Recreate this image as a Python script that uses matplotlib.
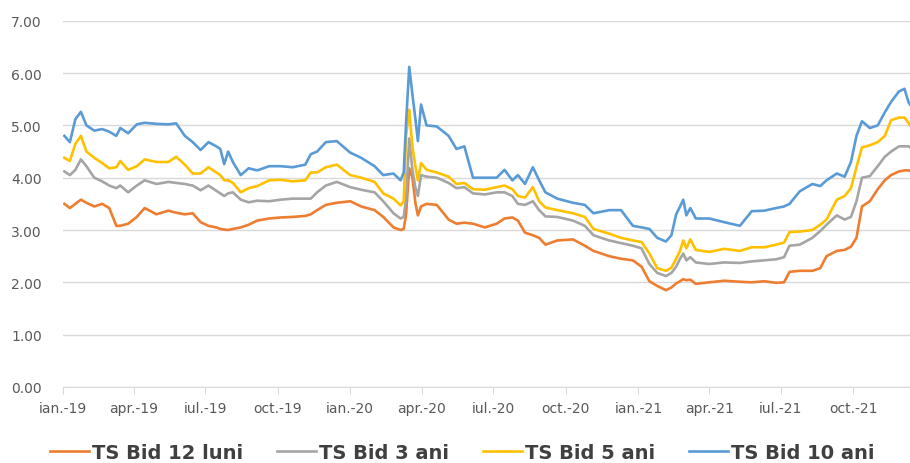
import pandas as pd
import matplotlib.pyplot as plt
import matplotlib.dates as mdates

# =========================
# Data
# =========================
dates = [
    "2019-01-03", "2019-01-10", "2019-01-17", "2019-01-24", "2019-01-31",
    "2019-02-10", "2019-02-20", "2019-03-01", "2019-03-10", "2019-03-15",
    "2019-03-25", "2019-04-05", "2019-04-15", "2019-04-30", "2019-05-15",
    "2019-05-25", "2019-06-05", "2019-06-15", "2019-06-25", "2019-07-05",
    "2019-07-15", "2019-07-20", "2019-07-25", "2019-07-30", "2019-08-05",
    "2019-08-15", "2019-08-25", "2019-09-05", "2019-09-20", "2019-10-05",
    "2019-10-20", "2019-11-05", "2019-11-12", "2019-11-20", "2019-12-01",
    "2019-12-15", "2020-01-01", "2020-01-15", "2020-02-01", "2020-02-12",
    "2020-02-25", "2020-03-05", "2020-03-09", "2020-03-12", "2020-03-16",
    "2020-03-20", "2020-03-24", "2020-03-27", "2020-03-31", "2020-04-07",
    "2020-04-20", "2020-05-05", "2020-05-15", "2020-05-25", "2020-06-05",
    "2020-06-20", "2020-07-05", "2020-07-15", "2020-07-25", "2020-08-01",
    "2020-08-10", "2020-08-20", "2020-08-28", "2020-09-05", "2020-09-20",
    "2020-10-10", "2020-10-25", "2020-11-05", "2020-11-25", "2020-12-10",
    "2020-12-25", "2021-01-05", "2021-01-15", "2021-01-25", "2021-02-05",
    "2021-02-12", "2021-02-18", "2021-02-23", "2021-02-27", "2021-03-03",
    "2021-03-08", "2021-03-15", "2021-04-01", "2021-04-20", "2021-05-10",
    "2021-05-25", "2021-06-10", "2021-06-25", "2021-07-05", "2021-07-12",
    "2021-07-25", "2021-08-10", "2021-08-20", "2021-08-28", "2021-09-10",
    "2021-09-20", "2021-09-28", "2021-10-05", "2021-10-12", "2021-10-22",
    "2021-11-01", "2021-11-10", "2021-11-18", "2021-11-28", "2021-12-05",
    "2021-12-10", "2021-12-12",
]

ts_12_luni = [
    3.50, 3.42, 3.50, 3.58, 3.52, 3.45, 3.50, 3.42, 3.08, 3.08,
    3.12, 3.25, 3.42, 3.30, 3.37, 3.33, 3.30, 3.32, 3.15, 3.08,
    3.05, 3.02, 3.01, 3.00, 3.02, 3.05, 3.10, 3.18, 3.22, 3.24,
    3.25, 3.27, 3.30, 3.38, 3.48, 3.52, 3.55, 3.45, 3.38, 3.25,
    3.05, 3.00, 3.02, 3.30, 4.18, 4.00, 3.50, 3.28, 3.45, 3.50,
    3.48, 3.20, 3.12, 3.14, 3.12, 3.05, 3.12, 3.22, 3.24, 3.18,
    2.95, 2.90, 2.85, 2.72, 2.80, 2.82, 2.70, 2.60, 2.50, 2.45,
    2.42, 2.30, 2.02, 1.93, 1.85, 1.90, 1.98, 2.02, 2.06, 2.04,
    2.05, 1.97, 2.00, 2.03, 2.01, 2.00, 2.02, 1.99, 2.00, 2.20,
    2.22, 2.22, 2.27, 2.50, 2.60, 2.62, 2.68, 2.85, 3.45, 3.55,
    3.78, 3.95, 4.05, 4.12, 4.14, 4.14, 4.13,
]

ts_3_ani = [
    4.12, 4.05, 4.15, 4.35, 4.22, 4.00, 3.93, 3.85, 3.80, 3.85,
    3.72, 3.85, 3.95, 3.88, 3.92, 3.90, 3.88, 3.85, 3.76, 3.85,
    3.75, 3.70, 3.65, 3.70, 3.72, 3.58, 3.53, 3.56, 3.55, 3.58,
    3.60, 3.60, 3.60, 3.72, 3.85, 3.92, 3.82, 3.77, 3.72, 3.55,
    3.32, 3.22, 3.25, 3.60, 4.75, 4.15, 3.80, 3.65, 4.05, 4.02,
    4.00, 3.90, 3.80, 3.82, 3.70, 3.68, 3.72, 3.72, 3.65, 3.50,
    3.48, 3.55, 3.38, 3.26, 3.25, 3.18, 3.08, 2.90, 2.80, 2.75,
    2.70, 2.65, 2.35, 2.18, 2.12, 2.18, 2.30, 2.45, 2.55, 2.42,
    2.48, 2.38, 2.35, 2.38, 2.37, 2.40, 2.42, 2.44, 2.48, 2.70,
    2.72, 2.85, 2.98, 3.10, 3.28, 3.20, 3.25, 3.55, 4.00, 4.03,
    4.22, 4.40, 4.50, 4.60, 4.60, 4.60, 4.58,
]

ts_5_ani = [
    4.38, 4.32, 4.65, 4.80, 4.50, 4.38, 4.28, 4.18, 4.20, 4.32,
    4.15, 4.22, 4.35, 4.30, 4.30, 4.40, 4.25, 4.08, 4.08, 4.20,
    4.10, 4.05, 3.95, 3.95, 3.90, 3.72, 3.80, 3.84, 3.95, 3.96,
    3.93, 3.95, 4.10, 4.10, 4.20, 4.25, 4.05, 4.00, 3.92, 3.70,
    3.60, 3.47, 3.55, 4.80, 5.30, 4.60, 4.20, 3.95, 4.28, 4.15,
    4.10, 4.02, 3.88, 3.90, 3.78, 3.77, 3.82, 3.85, 3.78, 3.65,
    3.62, 3.82, 3.55, 3.43, 3.38, 3.32, 3.25, 3.02, 2.93, 2.85,
    2.80, 2.77, 2.55, 2.27, 2.22, 2.28, 2.45, 2.60, 2.80, 2.65,
    2.82, 2.62, 2.58, 2.64, 2.60, 2.67, 2.67, 2.72, 2.76, 2.96,
    2.97, 3.00, 3.10, 3.20, 3.58, 3.65, 3.80, 4.20, 4.58, 4.62,
    4.68, 4.80, 5.10, 5.15, 5.15, 5.05, 5.00,
]

ts_10_ani = [
    4.80, 4.68, 5.12, 5.26, 5.00, 4.90, 4.93, 4.88, 4.80, 4.95,
    4.85, 5.02, 5.05, 5.03, 5.02, 5.04, 4.80, 4.68, 4.53, 4.68,
    4.60, 4.55, 4.26, 4.50, 4.30, 4.05, 4.18, 4.14, 4.22, 4.22,
    4.20, 4.25, 4.45, 4.50, 4.68, 4.70, 4.48, 4.38, 4.22, 4.05,
    4.08, 3.95, 4.10, 5.05, 6.12, 5.60, 5.10, 4.70, 5.40, 5.00,
    4.98, 4.80, 4.55, 4.60, 4.00, 4.00, 4.00, 4.15, 3.95, 4.05,
    3.88, 4.20, 3.95, 3.72, 3.60, 3.52, 3.48, 3.32, 3.38, 3.38,
    3.08, 3.05, 3.02, 2.85, 2.78, 2.90, 3.30, 3.45, 3.58, 3.28,
    3.42, 3.22, 3.22, 3.15, 3.08, 3.36, 3.37, 3.42, 3.45, 3.50,
    3.74, 3.88, 3.84, 3.95, 4.08, 4.02, 4.30, 4.80, 5.08, 4.95,
    5.00, 5.25, 5.45, 5.65, 5.70, 5.45, 5.40,
]

series_names = ["TS Bid 12 luni", "TS Bid 3 ani", "TS Bid 5 ani", "TS Bid 10 ani"]
series_colors = ["#ED7D31", "#A5A5A5", "#FFC000", "#5B9BD5"]

tick_dates = [
    "2019-01-01", "2019-04-01", "2019-07-01", "2019-10-01",
    "2020-01-01", "2020-04-01", "2020-07-01", "2020-10-01",
    "2021-01-01", "2021-04-01", "2021-07-01", "2021-10-01",
]
tick_labels = [
    "ian.-19", "apr.-19", "iul.-19", "oct.-19",
    "ian.-20", "apr.-20", "iul.-20", "oct.-20",
    "ian.-21", "apr.-21", "iul.-21", "oct.-21",
]

x = pd.to_datetime(dates)

# =========================
# Plot
# =========================
fig = plt.figure(figsize=(9.1, 4.64), dpi=100)
ax = fig.add_axes([0.069, 0.164, 0.931, 0.789])

for name, vals, col in zip(series_names,
                           [ts_12_luni, ts_3_ani, ts_5_ani, ts_10_ani],
                           series_colors):
    ax.plot(x, vals, color=col, linewidth=1.9, label=name)

ax.set_ylim(0, 7)
ax.set_yticks(range(0, 8))
ax.set_yticklabels([f"{v:.2f}" for v in range(0, 8)])
ax.set_xlim(pd.Timestamp("2019-01-01"), pd.Timestamp("2021-12-12"))
ax.set_xticks(pd.to_datetime(tick_dates))
ax.set_xticklabels(tick_labels)

ax.grid(axis="y", color="#d9d9d9", linewidth=1)
ax.set_axisbelow(True)
for side in ["top", "right", "left"]:
    ax.spines[side].set_visible(False)
ax.spines["bottom"].set_color("#d9d9d9")

ax.tick_params(axis="y", length=0, labelsize=10, labelcolor="#595959", pad=15)
ax.tick_params(axis="x", length=5, color="#d9d9d9", labelsize=10,
               labelcolor="#595959", pad=5)

fig.legend(loc="lower center", ncol=4, frameon=False,
           bbox_to_anchor=(0.508, -0.035),
           prop={"weight": "bold", "size": 14},
           labelcolor="#404040", handlelength=2.0, handletextpad=0.15,
           columnspacing=1.75)

plt.savefig("out.png", dpi=100)
plt.close()
